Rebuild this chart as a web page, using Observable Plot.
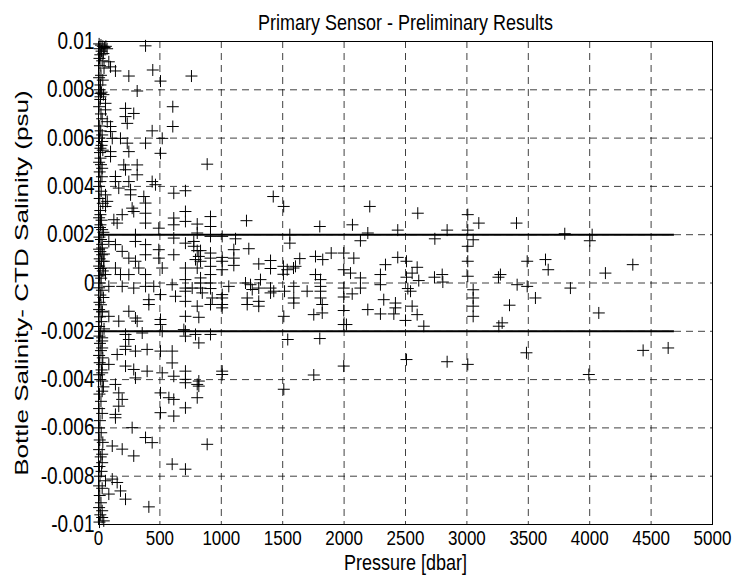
<!DOCTYPE html>
<html>
<head>
<meta charset="utf-8">
<script src="https://cdn.jsdelivr.net/npm/d3@7"></script>
<script src="https://cdn.jsdelivr.net/npm/@observablehq/plot@0.6"></script>
<style>
  body { margin: 0; background: #fff; }
  #chart svg { display: block; }
</style>
</head>
<body>
<div id="chart"></div>
<script>
const title = "Primary Sensor - Preliminary Results";
const xLabel = "Pressure [dbar]";
const yLabel = "Bottle Salinity- CTD Salinity (psu)";

const xTicks = [0, 500, 1000, 1500, 2000, 2500, 3000, 3500, 4000, 4500, 5000];
const xTickLabels = ["0", "500", "1000", "1500", "2000", "2500", "3000", "3500", "4000", "4500", "5000"];
const yTicks = [-0.01, -0.008, -0.006, -0.004, -0.002, 0, 0.002, 0.004, 0.006, 0.008, 0.01];
const yTickLabels = ["-0.01", "-0.008", "-0.006", "-0.004", "-0.002", "0", "0.002", "0.004", "0.006", "0.008", "0.01"];

// acceptance limits (psu) and the pressure span of the limit lines (dbar)
const limitValues = [-0.002, 0.002];
const limitPressure = [0, 4690];

// samples: [pressure (dbar), bottle - CTD salinity (x 0.001 psu)]
const nearSurface = [
  [5,9.9],[20,9.85],[35,9.8],[50,9.75],[10,9.7],[60,9.8],[25,9.6],[70,9.7],[15,9.45],[40,9.5],
  [8,9.3],[30,9.2],[12,9.0],[45,8.9],[20,8.6],[5,8.5],[35,8.4],[10,8.0],[25,7.9],[15,7.6],
  [40,7.8],[5,7.3],[20,7.0],[30,6.8],[10,6.5],[18,6.3],[8,6.0],[25,5.7],[12,5.4],[35,5.5],
  [5,5.0],[20,4.9],[10,4.6],[28,4.4],[15,4.2],[5,4.0],[22,3.8],[10,3.5],[35,3.3],[15,3.0],
  [5,2.7],[25,2.6],[12,2.3],[40,2.1],[8,1.9],[20,1.8],[30,1.6],[5,1.4],[15,1.3],[45,1.2],
  [10,1.0],[25,0.9],[5,0.7],[18,0.6],[35,0.5],[8,0.3],[22,0.2],[12,0.0],[5,-0.2],[28,-0.3],
  [15,-0.5],[40,-0.6],[8,-0.8],[20,-0.9],[5,-1.1],[30,-1.2],[12,-1.4],[25,-1.6],[5,-1.8],[45,-1.9],
  [15,-2.0],[8,-2.2],[30,-2.4],[12,-2.5],[20,-2.8],[5,-3.0],[35,-3.1],[10,-3.3],[25,-3.6],[5,-3.8],
  [15,-4.0],[40,-4.3],[8,-4.6],[20,-4.9],[5,-5.2],[30,-5.4],[12,-5.7],[5,-6.0],[22,-6.2],[10,-6.5],
  [35,-6.6],[5,-6.9],[18,-7.2],[8,-7.6],[25,-7.8],[12,-8.0],[5,-8.4],[30,-8.5],[10,-8.8],[20,-9.1],
  [5,-9.3],[15,-9.6],[8,-9.9]
];
const shallowUpper = [
  [383,9.82],[84,9.16],[98,8.95],[138,8.78],[247,8.57],[442,8.82],[505,8.36],[757,8.57],[315,7.95],[16,8.2],
  [16,7.85],[16,7.71],[57,7.44],[57,7.17],[220,7.23],[220,6.89],[234,6.61],[287,7.02],[605,7.30],[605,6.48],
  [71,6.68],[98,6.48],[98,6.27],[112,5.99],[437,6.30],[519,5.99],[383,5.79],[179,5.99],[234,5.79],[247,5.44],
  [505,5.37],[30,6.13],[30,5.86],[16,5.58],[16,5.17],[30,4.75],[98,5.44],[98,5.24],[206,4.89],[220,4.69],
  [315,4.89],[315,4.48],[138,4.41],[138,4.20],[165,3.93],[437,4.20],[464,4.07],[247,4.20],[261,3.86],[261,3.65],
  [613,3.72],[369,3.58],[383,3.31],[57,3.65],[71,3.38],[57,3.17],[274,3.10],[287,2.96],[193,2.83],[125,2.62],
  [152,2.48],[613,2.69],[613,2.41],[383,2.89],[383,2.48],[491,2.27],[16,2.83],[16,2.41],[30,2.21],[301,2.0],
  [301,1.72],[613,1.86],[84,1.72],[138,1.59],[193,1.31],[247,1.03],[301,0.90],[383,1.59],[383,1.17],[491,1.38],
  [491,1.03],[519,0.62],[613,1.17],[708,0.62],[790,0.97],[30,1.45],[30,1.17],[43,0.90],[43,0.62],[57,0.35],
  [138,0.62],[179,0.35],[247,0.35],[328,0.62],[383,0.35]
];
const shallowLower = [
  [84,-0.14],[193,-0.14],[287,-0.21],[383,-0.14],[450,-0.14],[600,-0.07],[763,-0.21],[410,-0.69],[410,-0.89],[505,-0.48],
  [627,-0.55],[30,-1.17],[84,-1.38],[165,-1.58],[247,-1.17],[301,-1.45],[315,-1.58],[505,-1.51],[505,-1.72],[519,-2.0],
  [695,-1.93],[220,-2.13],[356,-2.07],[247,-2.34],[220,-2.62],[30,-2.27],[30,-2.69],[152,-2.96],[220,-2.75],[301,-2.82],
  [396,-2.75],[505,-2.82],[600,-2.82],[600,-3.31],[84,-3.37],[220,-3.44],[287,-3.58],[301,-3.93],[396,-3.65],[519,-3.72],
  [613,-3.86],[708,-4.13],[804,-4.20],[138,-4.20],[165,-4.55],[30,-3.37],[30,-3.72],[30,-4.06],[30,-4.48],[505,-4.55],
  [573,-4.75],[613,-4.82],[193,-4.82],[165,-5.10],[138,-5.44],[138,-5.58],[505,-5.37],[613,-5.51],[708,-5.17],[274,-5.99],
  [383,-6.40],[437,-6.61],[112,-6.75],[193,-6.88],[287,-7.16],[600,-7.50],[708,-7.71],[30,-7.09],[30,-7.44],[57,-8.19],
  [112,-8.12],[152,-8.26],[179,-8.61],[84,-8.74],[220,-8.95],[410,-9.27],[30,-9.43],[30,-9.71],[43,-9.85],[885,-6.68]
];
const midDepth = [
  [885,4.92],[708,3.82],[1423,3.58],[708,2.96],[708,2.55],[912,2.75],[912,2.34],[804,2.44],[1205,2.58],[804,2.07],
  [912,1.93],[1007,1.93],[1116,1.83],[1224,1.42],[708,1.65],[776,1.72],[776,1.52],[804,1.34],[831,1.34],[817,1.10],
  [831,0.90],[912,1.24],[912,1.03],[1007,1.06],[1007,0.90],[1102,1.38],[1102,1.03],[1102,0.73],[804,0.62],[912,0.69],
  [1007,0.55],[912,0.35],[1305,0.79],[1401,0.93],[1401,0.60],[1537,0.55],[708,0.14],[708,-0.21],[708,-0.34],[708,-0.76],
  [831,0.21],[831,0],[831,-0.21],[845,-0.41],[912,0],[912,-0.23],[926,-0.62],[912,-0.89],[1007,-0.48],[1007,-0.62],
  [1007,-0.89],[1007,-1.03],[1061,-0.14],[1197,0],[1238,-0.07],[1252,-0.27],[1305,-0.21],[1319,0.14],[1211,-0.62],[1211,-0.89],
  [1305,-0.76],[1305,-0.96],[1401,-0.21],[1401,-0.41],[1427,-0.34],[804,-0.96],[817,-1.42],[708,-1.38],[708,-2.0],[708,-2.20],
  [790,-2.13],[817,-2.48],[912,-2.13],[708,-3.65],[708,-3.99],[817,-4.06],[817,-4.27],[804,-4.75],[1007,-3.65],[1007,-3.79]
];
const deep = [
  [1508,3.17],[2209,3.17],[2600,2.89],[3007,2.83],[3097,2.48],[3404,2.48],[1802,2.34],[2068,2.41],[2437,2.19],[2839,2.19],
  [3007,2.19],[1558,2.0],[2193,2.07],[2133,1.75],[1558,1.65],[2739,1.83],[3051,1.79],[3007,1.52],[1895,1.24],[1767,1.10],
  [1639,1.01],[1826,0.97],[1997,1.24],[2079,1.03],[2437,1.06],[2508,0.90],[2337,0.76],[2595,0.65],[3007,0.90],[3491,0.90],
  [1506,0.69],[1588,0.62],[1506,0.36],[1604,0.69],[1767,0.35],[1997,0.55],[2052,0.41],[2133,0.21],[2296,0.35],[2508,0.24],
  [2554,0.41],[2608,0.10],[2736,0.24],[2799,0.35],[2804,0.04],[3007,0.28],[3273,0.35],[3257,0.24],[3409,-0.07],[3491,-0.14],
  [1808,0.14],[1808,-0.14],[1808,-0.34],[1808,-0.62],[1822,-0.89],[2296,-0.07],[2133,-0.21],[2066,-0.45],[1997,-0.21],[1997,-0.58],
  [1997,-1.14],[1699,-0.34],[1590,-0.14],[1590,-0.62],[1590,-0.83],[1515,-0.34],[1509,-1.38],[2519,-0.23],[2541,-0.34],[2323,-0.69],
  [2418,-0.83],[2418,-1.03],[2405,-1.28],[2193,-1.10],[2296,-1.28],[2500,-1.55],[2554,-0.96],[2595,-1.31],[2649,-1.79],[1753,-1.31],
  [1822,-1.24],[1997,-1.72],[2019,-1.72],[3051,-0.28],[3051,-0.62],[3051,-0.96],[3051,-1.38],[3347,-0.92],[3260,-1.79],[3287,-1.65],
  [1541,-2.34],[1802,-2.30],[1997,-3.44],[2508,-3.17],[2839,-3.26],[3007,-3.37],[3485,-2.89],[1753,-3.81],[1509,-4.40],
  [3797,2.04],[4020,2.0],[4001,1.75],[3640,0.97],[3662,0.55],[4128,0.41],[4351,0.76],[3558,-0.62],[3843,-0.21],[4074,-1.24],
  [4435,-2.79],[4639,-2.69],[3993,-3.79]
];

const samples = [...nearSurface, ...shallowUpper, ...shallowLower, ...midDepth, ...deep];

const crossSymbol = {
  draw(context, size) {
    const r = Math.sqrt(size / Math.PI);
    context.moveTo(-r, 0); context.lineTo(r, 0);
    context.moveTo(0, -r); context.lineTo(0, r);
  }
};

const font = "'Liberation Sans', Arial, Helvetica, sans-serif";

const chart = Plot.plot({
  width: 733,
  height: 577,
  marginLeft: 98,
  marginRight: 21,
  marginTop: 41,
  marginBottom: 53,
  style: { fontFamily: font, fontSize: "17px", color: "#000", background: "#fff" },
  x: { domain: [0, 5000] },
  y: { domain: [-0.01, 0.01] },
  marks: [
    Plot.ruleX(xTicks.slice(1, -1), { stroke: "#000", strokeOpacity: 0.75, strokeDasharray: "7,5" }),
    Plot.ruleY(yTicks.slice(1, -1), { stroke: "#000", strokeOpacity: 0.75, strokeDasharray: "7,5" }),
    Plot.ruleY(limitValues, { x1: limitPressure[0], x2: limitPressure[1], stroke: "#000", strokeWidth: 2 }),
    Plot.dot(samples, {
      x: d => d[0],
      y: d => d[1] / 1000,
      symbol: crossSymbol,
      r: 6,
      fill: "none",
      stroke: "#000",
      strokeWidth: 1
    }),
    Plot.frame({ stroke: "#000", strokeWidth: 1 }),
    Plot.axisX(xTicks, {
      tickSize: 0, tickPadding: 7, fontSize: 17, label: null,
      tickFormat: d => xTickLabels[xTicks.indexOf(d)]
    }),
    Plot.axisY(yTicks, {
      tickSize: 0, tickPadding: 4, fontSize: 19, label: null,
      tickFormat: d => yTickLabels[yTicks.findIndex(t => Math.abs(t - d) < 1e-9)]
    }),
    Plot.text([title], { frameAnchor: "top", dy: -26, fontSize: 18, fill: "#000" }),
    Plot.text([xLabel], { frameAnchor: "bottom", dy: 44, fontSize: 18, fill: "#000" }),
    Plot.text([yLabel], { frameAnchor: "left", dx: -76, rotate: -90, textAnchor: "middle", fontSize: 18, fill: "#000" })
  ]
});

document.getElementById("chart").appendChild(chart);

// The reference figure is stretched vertically: stretch the text glyphs in y about their centres.
const stretchable = new Set([title, xLabel, ...xTickLabels, ...yTickLabels]);
chart.querySelectorAll("text").forEach(t => {
  const s = t.textContent;
  let f = null;
  if (s === yLabel) f = 1.45;
  else if (stretchable.has(s)) f = 1.22;
  if (!f) return;
  const g = document.createElementNS("http://www.w3.org/2000/svg", "g");
  g.style.transformBox = "fill-box";
  g.style.transformOrigin = "center";
  g.style.transform = `scaleY(${f})`;
  t.parentNode.insertBefore(g, t);
  g.appendChild(t);
});
</script>
</body>
</html>
